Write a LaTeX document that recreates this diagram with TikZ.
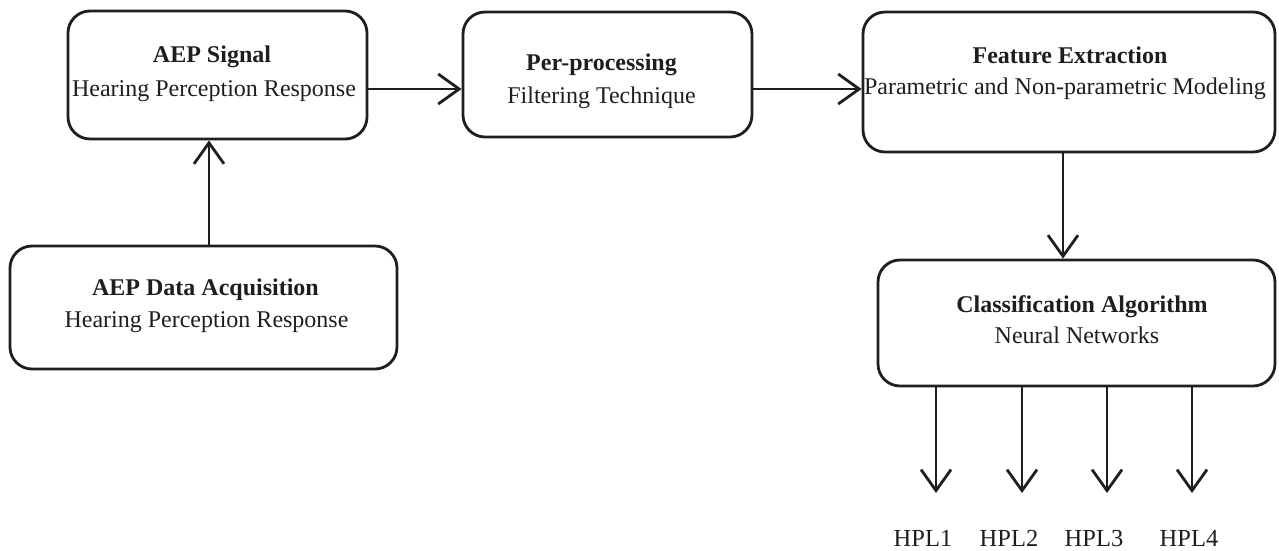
\documentclass[tikz,border=0pt]{standalone}
\usepackage{fontspec}
\setmainfont{Liberation Serif}
\usetikzlibrary{arrows.meta}
\definecolor{ink}{HTML}{1E1E1E}
\begin{document}
\begin{tikzpicture}[x=1pt,y=-1pt,
  box/.style={draw=ink, line width=2.8pt, rounded corners=22pt, inner sep=0pt},
  arr/.style={draw=ink, line width=2.8pt, -{Straight Barb[length=21pt,width=30pt]}},
  head/.style={anchor=base, inner sep=0pt, text=ink, font=\fontsize{24}{28}\selectfont\bfseries},
  sub/.style={anchor=base, inner sep=0pt, text=ink, font=\fontsize{24}{28}\selectfont},
  lab/.style={anchor=base, inner sep=0pt, text=ink, font=\fontsize{24.5}{28}\selectfont}]
\useasboundingbox (0,0) rectangle (1279,550);

% boxes
\node[box, minimum width=299pt, minimum height=128pt] (b1) at (217.5,75) {};
\node[box, minimum width=289pt, minimum height=125pt] (b2) at (607.5,74.5) {};
\node[box, minimum width=412pt, minimum height=140pt] (b3) at (1069,82) {};
\node[box, minimum width=387pt, minimum height=123pt] (b4) at (203.5,307.5) {};
\node[box, minimum width=397pt, minimum height=126pt] (b5) at (1076.5,323) {};

% texts
\node[head] (t1a) at (212,62) {AEP Signal};
\node[sub]  (t1b) at (214,96) {Hearing Perception Response};
\node[head] (t2a) at (601.5,70) {Per-processing};
\node[sub]  (t2b) at (601.5,103) {Filtering Technique};
\node[head] (t3a) at (1070,63) {Feature Extraction};
\node[sub]  (t3b) at (1065,94.5) {Parametric and Non-parametric Modeling};
\node[head] (t4a) at (205.5,295) {AEP Data Acquisition};
\node[sub]  (t4b) at (206.5,327) {Hearing Perception Response};
\node[head] (t5a) at (1082,312) {Classification Algorithm};
\node[sub]  (t5b) at (1077,343) {Neural Networks};

\node[lab] (h1) at (923,546) {HPL1};
\node[lab] (h2) at (1009,546) {HPL2};
\node[lab] (h3) at (1094,546) {HPL3};
\node[lab] (h4) at (1189,546) {HPL4};

% connector guides
\coordinate (v41) at (209,0);
\coordinate (hrow) at (0,89);
\coordinate (v35) at (1063,0);
\coordinate (e1) at (936,493);
\coordinate (e2) at (1022,493);
\coordinate (e3) at (1107,493);
\coordinate (e4) at (1192,493);

% connectors
\draw[arr] (v41 |- b4.north) -- (v41 |- b1.south);
\draw[arr] (hrow -| b1.east) -- (hrow -| b2.west);
\draw[arr] (hrow -| b2.east) -- (hrow -| b3.west);
\draw[arr] (v35 |- b3.south) -- (v35 |- b5.north);
\draw[arr] (e1 |- b5.south) -- (e1);
\draw[arr] (e2 |- b5.south) -- (e2);
\draw[arr] (e3 |- b5.south) -- (e3);
\draw[arr] (e4 |- b5.south) -- (e4);
\end{tikzpicture}
\end{document}
